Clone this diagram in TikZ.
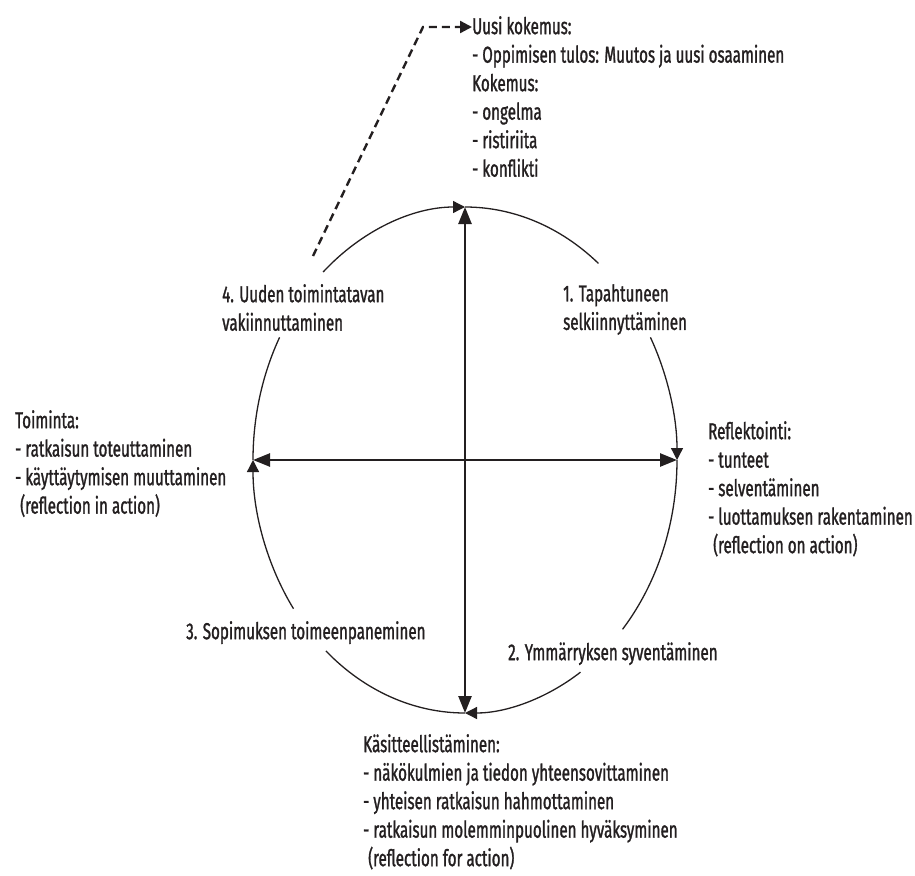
\documentclass[tikz,border=0pt]{standalone}
\usepackage{fontspec}
\setmainfont{Fira Sans}[FakeStretch=0.66,FakeBold=1.2]
\usetikzlibrary{arrows.meta}
\definecolor{penColor}{HTML}{231F20}
\tikzset{
  txtblock/.style={anchor=north west, inner sep=0pt, align=left, text=penColor,
    font=\fontsize{23}{28.5}\selectfont},
  axisline/.style={penColor, line width=2.5pt,
    {Triangle[length=17pt,width=13pt]}-{Triangle[length=17pt,width=13pt]}},
  cycleline/.style={penColor, line width=1.3pt},
  cyclearrow/.style={cycleline, -{Triangle[length=12pt,width=12pt]}},
  dashline/.style={penColor, line width=2.4pt, dash pattern=on 8pt off 5pt,
    -{Triangle[length=12pt,width=12pt]}}
}

\begin{document}
\begin{tikzpicture}[x=1pt,y=-1pt]
\useasboundingbox (0,0) rectangle (915,875);

% centre and axis ends
\coordinate (c) at (465,460);
\coordinate (N) at (465,207);
\coordinate (E) at (677,460);
\coordinate (S) at (465,713);
\coordinate (W) at (253,460);

% cycle, broken at the phase labels
\draw[cycleline] (W) arc[start angle=180, end angle=209, x radius=212, y radius=253];
\draw[cyclearrow] (c) ++(228:212 and 253) arc[start angle=228, end angle=270, x radius=212, y radius=253];
\draw[cycleline] (N) arc[start angle=270, end angle=309, x radius=212, y radius=253];
\draw[cyclearrow] (c) ++(331:212 and 253) arc[start angle=331, end angle=360, x radius=212, y radius=253];
\draw[cycleline] (E) arc[start angle=0, end angle=42, x radius=212, y radius=253];
\draw[cyclearrow] (c) ++(57:212 and 253) arc[start angle=57, end angle=90, x radius=212, y radius=253];
\draw[cycleline] (S) arc[start angle=90, end angle=131, x radius=212, y radius=253];
\draw[cyclearrow] (c) ++(144:212 and 253) arc[start angle=144, end angle=180, x radius=212, y radius=253];

\draw[axisline] (N) -- (S);
\draw[axisline] (W) -- (E);

\node[txtblock] (kokemus) at (472,16) {Uusi kokemus:\\- Oppimisen tulos: Muutos ja uusi osaaminen\\Kokemus:\\- ongelma\\- ristiriita\\- konflikti};
\node[txtblock] (vaihe1) at (563,284) {1. Tapahtuneen\\selkiinnyttäminen};
\node[txtblock] (vaihe4) at (222,284) {4. Uuden toimintatavan\\vakiinnuttaminen};
\node[txtblock] (toiminta) at (15,410) {Toiminta:\\- ratkaisun toteuttaminen\\- käyttäytymisen muuttaminen\\\hspace*{5pt}(reflection in action)};
\node[txtblock] (reflektointi) at (708,421) {Reflektointi:\\- tunteet\\- selventäminen\\- luottamuksen rakentaminen\\\hspace*{5pt}(reflection on action)};
\node[txtblock] (vaihe3) at (186,621) {3. Sopimuksen toimeenpaneminen};
\node[txtblock] (vaihe2) at (508,642) {2. Ymmärryksen syventäminen};
\node[txtblock] (kasitteet) at (363,734) {Käsitteellistäminen:\\- näkökulmien ja tiedon yhteensovittaminen\\- yhteisen ratkaisun hahmottaminen\\- ratkaisun molemminpuolinen hyväksyminen\\\hspace*{5pt}(reflection for action)};

% dashed return to a new experience
\coordinate (dstart) at (313,256);
\coordinate (dbend) at (423,27);
\draw[dashline] (dstart) -- (dbend) -- (dbend -| kokemus.west);
\end{tikzpicture}
\end{document}
